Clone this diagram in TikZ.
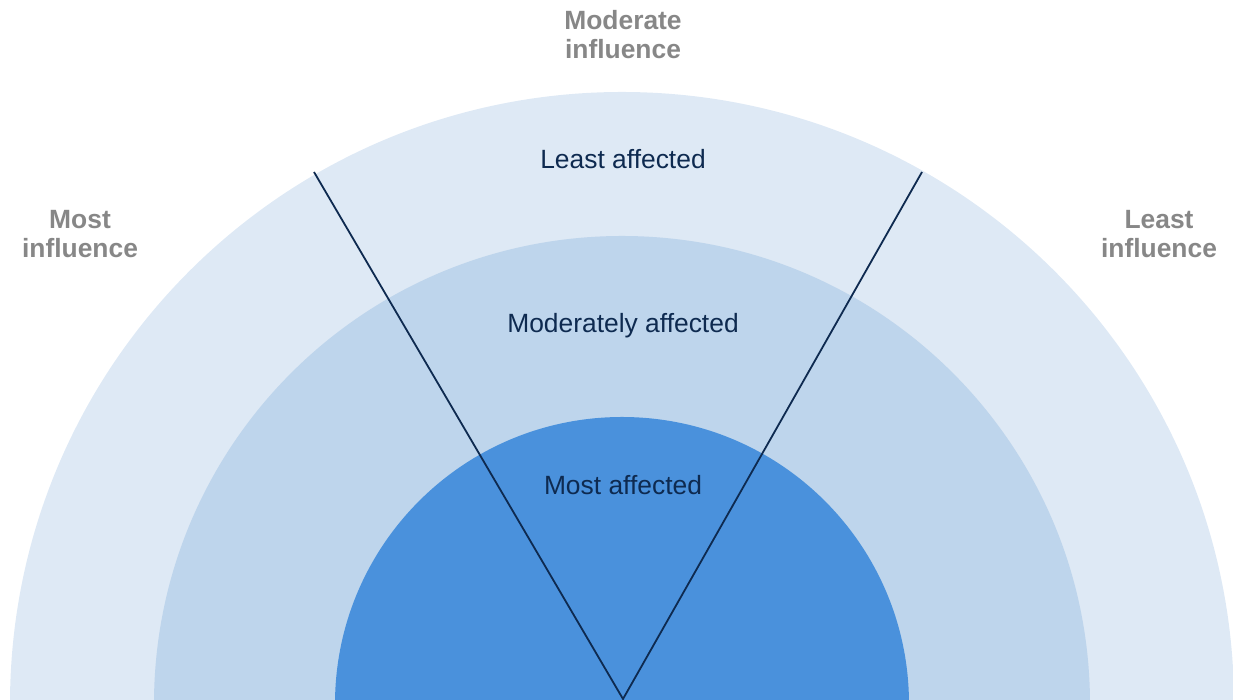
\documentclass[tikz,border=0pt]{standalone}
\usepackage{fontspec}
\setmainfont{Liberation Sans}
\usepackage{tikz}
\definecolor{ringout}{HTML}{DEE9F5}
\definecolor{ringmid}{HTML}{BED5EC}
\definecolor{ringin}{HTML}{4A91DC}
\definecolor{navy}{HTML}{0E2A50}
\definecolor{infgray}{HTML}{878787}
\tikzset{
	zone/.style={text=navy,font=\fontsize{13.2}{15}\selectfont},
	influence/.style={text=infgray,font=\fontsize{13.2}{14.5}\selectfont\bfseries,align=center},
	divider/.style={draw=navy,line width=0.9pt}
}

\begin{document}
\begin{tikzpicture}[x=0.5pt,y=0.5pt]
	\useasboundingbox (0,0) rectangle (1233,700);
	\begin{scope}
		\clip (0,0) rectangle (1233,700);
		\fill[ringout] (622,-4) circle (612);
		\fill[ringmid] (622,-4) circle (468);
		\fill[ringin] (622,-4) circle (287);
	\end{scope}

	\coordinate (apex) at (623,1);
	\coordinate (lend) at (314,528);
	\coordinate (rend) at (922,528);
	\draw[divider] (lend) -- (apex) -- (rend);

	\node[zone] (least) at (623,541) {Least affected};
	\node[zone] (moderately) at (623,374) {Moderately affected};
	\node[zone] (most) at (623,215) {Most affected};

	\node[influence] (modinf) at (623,665) {Moderate\\influence};
	\node[influence] (mostinf) at (80,466) {Most\\influence};
	\node[influence] (leastinf) at (1159,466) {Least\\influence};
\end{tikzpicture}
\end{document}
